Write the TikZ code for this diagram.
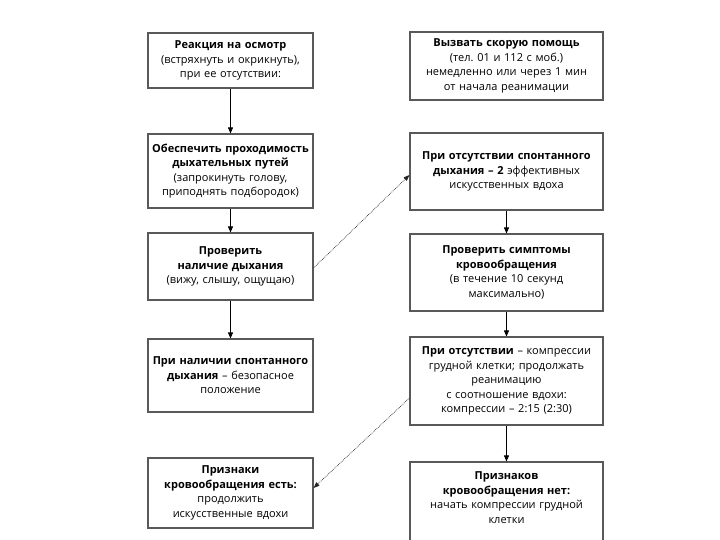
\documentclass[tikz,border=0pt]{standalone}
\usepackage{fontspec}
\setmainfont{Open Sans}
\usetikzlibrary{arrows.meta}
\frenchspacing
\begin{document}
\begin{tikzpicture}[x=1pt,y=-1pt,
  box/.style={draw=black!65, line width=1.1pt, fill=white, rectangle, align=center,
    inner sep=0pt, font=\fontsize{11}{14.5}\selectfont},
  lbox/.style={box, text width=165pt, minimum width=165pt},
  rbox/.style={box, text width=193pt, minimum width=193pt},
  flow/.style={-{Triangle[length=6pt,width=5pt]}, line width=0.8pt, black},
  dotarrow/.style={-{Triangle[length=6pt,width=4.5pt]}, densely dotted, line width=0.7pt, black!85}]
\useasboundingbox (0,0) rectangle (720,540);
\begin{scope}
\clip (0,0) rectangle (720,540);
% left column
\node[lbox, minimum height=55pt] (L1) at (230.5,60.5)
  {\textbf{Реакция на осмотр}\\(встряхнуть и окрикнуть),\\при ее отсутствии:};
\node[lbox, minimum height=74pt] (L2) at (230.5,171)
  {\textbf{Обеспечить проходимость}\\\textbf{дыхательных путей}\\(запрокинуть голову,\\приподнять подбородок)};
\node[lbox, minimum height=67pt] (L3) at (230.5,266.5)
  {\textbf{Проверить}\\\textbf{наличие дыхания}\\(вижу, слышу, ощущаю)};
\node[lbox, minimum height=73pt] (L4) at (230.5,375.5)
  {\textbf{При наличии спонтанного}\\\textbf{дыхания} – безопасное\\положение};
\node[lbox, minimum height=70pt] (L5) at (230.5,493)
  {\textbf{Признаки}\\\textbf{кровообращения есть:}\\продолжить\\искусственные вдохи};
% right column
\node[rbox, minimum height=68pt] (R1) at (506.5,66)
  {\textbf{Вызвать скорую помощь}\\(тел. 01 и 112 с моб.)\\немедленно или через 1 мин\\от начала реанимации};
\node[rbox, minimum height=77pt] (R2) at (506.5,171.5)
  {\textbf{При отсутствии спонтанного}\\\textbf{дыхания – 2} эффективных\\искусственных вдоха};
\node[rbox, minimum height=77pt] (R3) at (506.5,272.5)
  {\textbf{Проверить симптомы}\\\textbf{кровообращения}\\(в течение 10 секунд\\максимально)};
\node[rbox, minimum height=88pt] (R4) at (506.5,381)
  {\textbf{При отсутствии} – компрессии\\грудной клетки; продолжать\\реанимацию\\с соотношение вдохи:\\компрессии – 2:15 (2:30)};
\node[rbox, minimum height=86pt] (R5) at (506.5,505)
  {\textbf{Признаков}\\\textbf{кровообращения нет:}\\начать компрессии грудной\\клетки\\\mbox{}};
% connectors
\draw[flow] (L1) -- (L2);
\draw[flow] (L2) -- (L3);
\draw[flow] (L3) -- (L4);
\draw[flow] (R2) -- (R3);
\draw[flow] (R3) -- (R4);
\draw[flow] (R4) -- (R5);
\draw[dotarrow] ([yshift=-1.5pt]L3.east) -- ([yshift=-3.5pt]R2.west);
\draw[dotarrow] ([yshift=-17pt]R4.west) -- ([yshift=5pt]L5.east);
\end{scope}
\end{tikzpicture}
\end{document}
